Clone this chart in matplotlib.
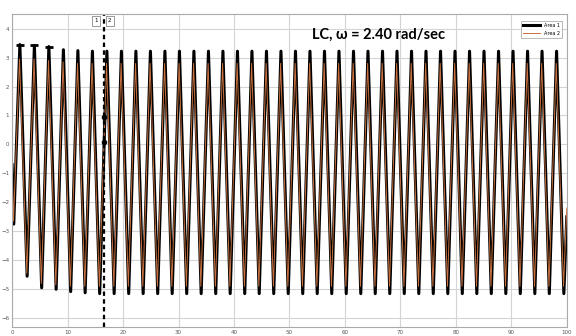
import matplotlib
matplotlib.use("Agg")
import matplotlib.pyplot as plt

# Area 1 (black) - turning points
a1_t = [0.0, 0.3, 1.40, 2.71, 4.02, 5.33, 6.63, 7.94, 9.25, 10.56, 11.86, 13.17,
        14.48, 15.79, 17.09, 18.40, 19.71, 21.02, 22.32, 23.63, 24.94, 26.25,
        27.55, 28.86, 30.17, 31.48, 32.78, 34.09, 35.40, 36.71, 38.01, 39.32,
        40.63, 41.94, 43.24, 44.55, 45.86, 47.17, 48.47, 49.78, 51.09, 52.40,
        53.70, 55.01, 56.32, 57.63, 58.93, 60.24, 61.55, 62.86, 64.16, 65.47,
        66.78, 68.09, 69.39, 70.70, 72.01, 73.32, 74.62, 75.93, 77.24, 78.55,
        79.85, 81.16, 82.47, 83.78, 85.08, 86.39, 87.70, 89.01, 90.31, 91.62,
        92.93, 94.24, 95.54, 96.85, 98.16, 99.47, 100.0]
a1_y = [-0.7, -2.75, 3.45, -4.55, 3.42, -4.95, 3.38, -5.0, 3.27, -5.08, 3.24, -5.12,
        3.22, -5.15, 3.22, -5.15, 3.22, -5.15, 3.22, -5.15, 3.22, -5.15,
        3.22, -5.15, 3.22, -5.15, 3.22, -5.15, 3.22, -5.15, 3.22, -5.15,
        3.22, -5.15, 3.22, -5.15, 3.22, -5.15, 3.22, -5.15, 3.22, -5.15,
        3.22, -5.15, 3.22, -5.15, 3.22, -5.15, 3.22, -5.15, 3.22, -5.15,
        3.22, -5.15, 3.22, -5.15, 3.22, -5.15, 3.22, -5.15, 3.22, -5.15,
        3.22, -5.15, 3.22, -5.15, 3.22, -5.15, 3.22, -5.15, 3.22, -5.15,
        3.22, -5.15, 3.22, -5.15, 3.22, -5.15, -2.5]

# Area 2 (orange) - a touch smaller swing, slightly leading
a2_t = [0.0, 0.25, 1.34, 2.65, 3.96, 5.27, 6.57, 7.88, 9.19, 10.50, 11.80, 13.11,
        14.42, 15.73, 17.03, 18.34, 19.65, 20.96, 22.26, 23.57, 24.88, 26.19,
        27.49, 28.80, 30.11, 31.42, 32.72, 34.03, 35.34, 36.65, 37.95, 39.26,
        40.57, 41.88, 43.18, 44.49, 45.80, 47.11, 48.41, 49.72, 51.03, 52.34,
        53.64, 54.95, 56.26, 57.57, 58.87, 60.18, 61.49, 62.80, 64.10, 65.41,
        66.72, 68.03, 69.33, 70.64, 71.95, 73.26, 74.56, 75.87, 77.18, 78.49,
        79.79, 81.10, 82.41, 83.72, 85.02, 86.33, 87.64, 88.95, 90.25, 91.56,
        92.87, 94.18, 95.48, 96.79, 98.10, 99.41, 100.0]
a2_y = [-0.8, -2.65, 2.95, -4.45, 2.95, -4.8, 2.9, -4.85, 2.85, -4.9, 2.8, -4.9,
        2.8, -4.9, 2.8, -4.9, 2.8, -4.9, 2.8, -4.9, 2.8, -4.9,
        2.8, -4.9, 2.8, -4.9, 2.8, -4.9, 2.8, -4.9, 2.8, -4.9,
        2.8, -4.9, 2.8, -4.9, 2.8, -4.9, 2.8, -4.9, 2.8, -4.9,
        2.8, -4.9, 2.8, -4.9, 2.8, -4.9, 2.8, -4.9, 2.8, -4.9,
        2.8, -4.9, 2.8, -4.9, 2.8, -4.9, 2.8, -4.9, 2.8, -4.9,
        2.8, -4.9, 2.8, -4.9, 2.8, -4.9, 2.8, -4.9, 2.8, -4.9,
        2.8, -4.9, 2.8, -4.9, 2.8, -4.9, -2.2]

# capped first peaks
cap_t = [1.40, 4.02, 6.63]
cap_y = [3.45, 3.42, 3.38]

cursor_x = 16.5
cursor_pts = [0.95, 0.1]

x_ticks = [0, 10, 20, 30, 40, 50, 60, 70, 80, 90, 100]
y_ticks = [-6, -5, -4, -3, -2, -1, 0, 1, 2, 3, 4]

fig = plt.figure(figsize=(5.76, 3.36), dpi=100)
ax = fig.add_axes([0.021, 0.027, 0.963, 0.931])

ax.plot(a1_t, a1_y, color='black', lw=2.2, solid_joinstyle='round', label='Area 1')
ax.plot(a2_t, a2_y, color='#C8703F', lw=0.7, label='Area 2')
ax.plot(cap_t, cap_y, ls='none', marker='_', color='black', ms=6, mew=2)

ax.axvline(cursor_x, color='black', lw=1.6, ls=(0, (2, 1.5)))
ax.plot([cursor_x] * len(cursor_pts), cursor_pts, 'o', color='black', ms=3)

ax.set_xlim(0, 100)
ax.set_ylim(-6.3, 4.5)
ax.set_xticks(x_ticks)
ax.set_yticks(y_ticks)
ax.tick_params(length=0, labelsize=4, labelcolor='#555555', pad=2)
ax.grid(True, color='#d4d4d4', lw=0.8)
for s in ax.spines.values():
    s.set_color('#aaaaaa')
    s.set_linewidth(0.8)

ax.text(0.661, 0.933, 'LC, ω = 2.40 rad/sec', transform=ax.transAxes,
        ha='center', va='center', fontsize=10.5, fontweight='bold', family='Lato')

# cursor labels
for lbl, xp in (('1', 0.152), ('2', 0.176)):
    ax.text(xp, 0.978, lbl, transform=ax.transAxes, ha='center', va='center',
            fontsize=4, bbox=dict(boxstyle='square,pad=0.4', fc='white', ec='#888888', lw=0.6))

leg = ax.legend(loc='upper right', fontsize=3.5, frameon=True, fancybox=False,
                edgecolor='#999999', borderpad=0.4, handlelength=3.5,
                bbox_to_anchor=(0.995, 0.985))
leg.get_frame().set_linewidth(0.6)

fig.savefig('out.png', dpi=100)
